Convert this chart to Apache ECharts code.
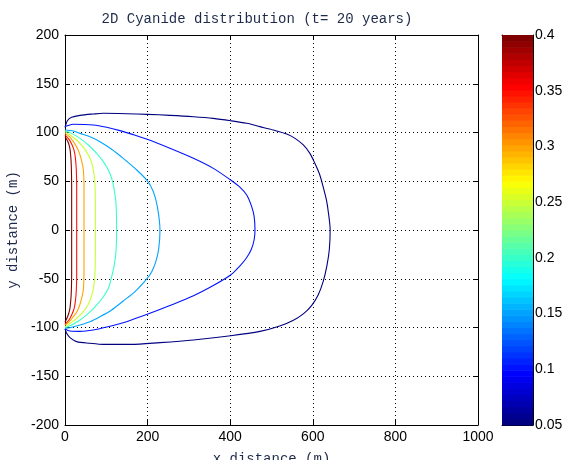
<!DOCTYPE html>
<html>
<head>
<meta charset="utf-8">
<script src="https://cdn.jsdelivr.net/npm/echarts@6/dist/echarts.min.js"></script>
<style>html,body{margin:0;padding:0;background:#fff;}#c{width:566px;height:460px;}</style>
</head>
<body>
<div id="c"></div>
<script>
// ---- data ----
const levels = [0.05, 0.1, 0.15, 0.2, 0.25, 0.3, 0.35, 0.4];
const xTicks = [0, 200, 400, 600, 800, 1000];
const yTicks = [-200, -150, -100, -50, 0, 50, 100, 150, 200];
const cbTicks = [0.05, 0.1, 0.15, 0.2, 0.25, 0.3, 0.35, 0.4];

const c005 = [[0,105.3],[5.7,112.1],[16.1,115.6],[36.3,117.6],[68.6,119],[92.8,119.7],[149,119.3],[199.4,118.6],[254,117.6],[311,116.2],[359,114.5],[401,112.1],[440,109.4],[472,106],[504,102.6],[537,98.5],[557,94],[577,87.2],[593,78.6],[605,68.4],[617,56.4],[625,44.4],[633,30.8],[638,17.1],[642,0],
  [640,-20],[634,-37],[625,-53],[613,-66.7],[597,-77.5],[577,-86],[553,-92.5],[520,-98.5],[472,-104],[401,-108.5],[311,-112.8],[230,-115.5],[159,-117.3],[92.8,-117.3],[60.5,-116.2],[28.3,-114.5],[12,-110.4],[4,-106],[0,-101.5]];
const c010 = [[0,106],[4,106.7],[20.2,108.4],[68.6,107.7],[100.9,105.3],[133,101.9],[165,97.8],[199,93],[254,83.8],[311,73.5],[359,63.2],[401,51.3],[424,43.8],[440,35.9],[452,24],[458,13.7],[460,0],
  [458,-10],[451,-20],[438,-29.5],[421,-38],[401,-46.2],[359,-57],[311,-67.5],[254,-77.5],[199,-86.5],[149,-94],[101,-99.5],[68.6,-102.6],[36.3,-104],[12,-103.6],[0,-101.5]];
const c015 = [[0,102.6],[20.2,101.5],[36.3,99.1],[60.5,95.7],[84.7,90.6],[113,82.8],[141,73.5],[169.5,63.2],[199,50.6],[214,39.3],[223.6,24],[230,0],
  [227,-18.8],[220,-32.5],[210,-42.7],[199,-49.6],[169.5,-63.2],[141,-72.8],[113,-82],[84.7,-88.9],[60.5,-94],[36.3,-97.4],[12,-100.2],[0,-100.9]];
const c020 = [[0,101.9],[16.1,99.1],[36.3,94],[56.5,87.2],[76.7,78.6],[92.8,70.1],[105,61.5],[113,53],[118.6,42.7],[123.5,27.4],[125,0],
  [123.5,-22.2],[118.6,-37.6],[113,-47.9],[105,-59.8],[92.8,-68.4],[76.7,-77],[56.5,-85.5],[36.3,-92.3],[16.1,-97.4],[0,-100.2]];
const c025 = [[0,100.9],[12.1,97.4],[28.3,92.3],[44.4,84.8],[56.5,77],[64.6,69],[68.6,61.5],[71.9,51.3],[73.5,30.8],[73.5,0],
  [73.5,-29],[71.9,-49.6],[68.6,-59.8],[64.6,-67.3],[56.5,-76.2],[44.4,-83.8],[28.3,-90.6],[12.1,-95.7],[0,-99.2]];
const c030 = [[0,99.1],[10.5,95.7],[20.2,90.6],[29.9,83.8],[36.3,77],[41.2,69],[44.4,61.5],[46,47.9],[46,0],
  [46,-42.7],[44.4,-61.5],[41.2,-68.4],[36.3,-76.2],[29.9,-83],[20.2,-88.9],[10.5,-94],[0,-97.4]];
const c035 = [[0,97.4],[9.7,93],[16.1,88.2],[21.8,82],[25,74.5],[27.4,61.5],[28.3,44.4],[28.3,0],
  [28.3,-46.2],[27.4,-61.5],[25,-73.5],[21.8,-81],[16.1,-87.2],[9.7,-92.3],[0,-96.4]];
const c040 = [[0,95.7],[7.1,90.6],[11.3,84.8],[13.7,77],[15.3,65],[16.1,44.4],[16.1,0],
  [16.1,-46.2],[15.3,-63.2],[13.7,-73.5],[11.3,-82],[7.1,-87.9],[0,-94.7]];
const contours = [c005, c010, c015, c020, c025, c030, c035, c040];

// ---- styling helpers ----
function clamp(v){ return Math.max(0, Math.min(1, v)); }
function jet(t){
  const r = clamp(1.5 - Math.abs(4*t - 3));
  const g = clamp(1.5 - Math.abs(4*t - 2));
  const b = clamp(1.5 - Math.abs(4*t - 1));
  return 'rgb(' + Math.round(r*255) + ',' + Math.round(g*255) + ',' + Math.round(b*255) + ')';
}
const cMin = levels[0], cMax = levels[levels.length-1];
const nBands = 64;
const bands = [];
for (let i = 0; i < nBands; i++) {
  bands.push([0, cMin + (cMax-cMin)*i/nBands, cMin + (cMax-cMin)*(i+1)/nBands, i]);
}

const mono = 'Liberation Mono';
const sans = 'Liberation Sans';
const txtCol = '#1e2a4a';

const contourSeries = contours.map((pts, k) => ({
  type: 'line',
  xAxisIndex: 0, yAxisIndex: 0,
  data: pts,
  showSymbol: false,
  symbol: 'none',
  smooth: 0.3,
  clip: true,
  lineStyle: { width: 1.1, color: jet((levels[k]-cMin)/(cMax-cMin)) },
  silent: true,
  z: 3
}));

const boxAxis = (extra) => Object.assign({
  axisLine: { show: true, onZero: false, lineStyle: { color: '#000', width: 1 } },
  axisTick: { show: true, inside: true, length: 5, lineStyle: { color: '#000' } },
  axisLabel: { show: false },
  splitLine: { show: false }
}, extra);

const option = {
  animation: false,
  backgroundColor: '#fff',
  title: {
    text: '2D Cyanide distribution (t= 20 years)',
    left: 257, top: 12, textAlign: 'center', padding: 0,
    textStyle: { fontFamily: mono, fontSize: 14, fontWeight: 'normal', color: txtCol }
  },
  grid: [
    { left: 65, top: 35, width: 413, height: 390, containLabel: false, outerBoundsMode: 'none' },
    { left: 502, top: 35, width: 31, height: 390, containLabel: false, outerBoundsMode: 'none' }
  ],
  xAxis: [
    boxAxis({
      type: 'value', gridIndex: 0, position: 'bottom',
      min: xTicks[0], max: xTicks[xTicks.length-1], interval: xTicks[1]-xTicks[0],
      axisLabel: { show: true, fontFamily: sans, fontSize: 14, color: '#000', margin: 5,
        formatter: v => String(v) },
      splitLine: { show: true, lineStyle: { color: '#000', type: [1, 3], width: 1 } },
      name: 'x distance (m)', nameLocation: 'middle', nameGap: 27,
      nameTextStyle: { fontFamily: mono, fontSize: 14, color: txtCol }
    }),
    boxAxis({
      type: 'value', gridIndex: 0, position: 'top',
      min: xTicks[0], max: xTicks[xTicks.length-1], interval: xTicks[1]-xTicks[0]
    }),
    boxAxis({ type: 'value', gridIndex: 1, position: 'bottom', min: 0, max: 1,
      axisTick: { show: false } }),
    boxAxis({ type: 'value', gridIndex: 1, position: 'top', min: 0, max: 1,
      axisTick: { show: false } })
  ],
  yAxis: [
    boxAxis({
      type: 'value', gridIndex: 0, position: 'left',
      min: yTicks[0], max: yTicks[yTicks.length-1], interval: yTicks[1]-yTicks[0],
      axisLabel: { show: true, fontFamily: sans, fontSize: 14, color: '#000', margin: 6,
        formatter: v => String(v) },
      splitLine: { show: true, lineStyle: { color: '#000', type: [1, 3], width: 1 } },
      name: 'y distance (m)', nameLocation: 'middle', nameGap: 40, nameRotate: 90,
      nameTextStyle: { fontFamily: mono, fontSize: 14, color: txtCol }
    }),
    boxAxis({
      type: 'value', gridIndex: 0, position: 'right',
      min: yTicks[0], max: yTicks[yTicks.length-1], interval: yTicks[1]-yTicks[0]
    }),
    boxAxis({
      type: 'value', gridIndex: 1, position: 'right',
      min: cbTicks[0], max: cbTicks[cbTicks.length-1], interval: 0.05,
      axisTick: { show: true, inside: true, length: 4, lineStyle: { color: '#000' } },
      axisLabel: { show: true, fontFamily: sans, fontSize: 14, color: '#000', margin: 2,
        formatter: v => String(Math.round(v*100)/100) }
    }),
    boxAxis({
      type: 'value', gridIndex: 1, position: 'left',
      min: cbTicks[0], max: cbTicks[cbTicks.length-1], interval: 0.05,
      axisTick: { show: true, inside: true, length: 4, lineStyle: { color: '#000' } }
    })
  ],
  series: contourSeries.concat([{
    type: 'custom',
    xAxisIndex: 2, yAxisIndex: 2,
    data: bands,
    encode: { x: 0, y: [1, 2] },
    silent: true,
    z: 1,
    renderItem: function (params, api) {
      const p0 = api.coord([0, api.value(1)]);
      const p1 = api.coord([1, api.value(2)]);
      const t = api.value(3) / (nBands - 1);
      return {
        type: 'rect',
        shape: { x: p0[0], y: p1[1], width: p1[0]-p0[0], height: p0[1]-p1[1] + 0.6 },
        style: { fill: jet(t), stroke: null }
      };
    }
  }])
};

const chart = echarts.init(document.getElementById('c'), null, { renderer: 'canvas' });
chart.setOption(option);
</script>
</body>
</html>
